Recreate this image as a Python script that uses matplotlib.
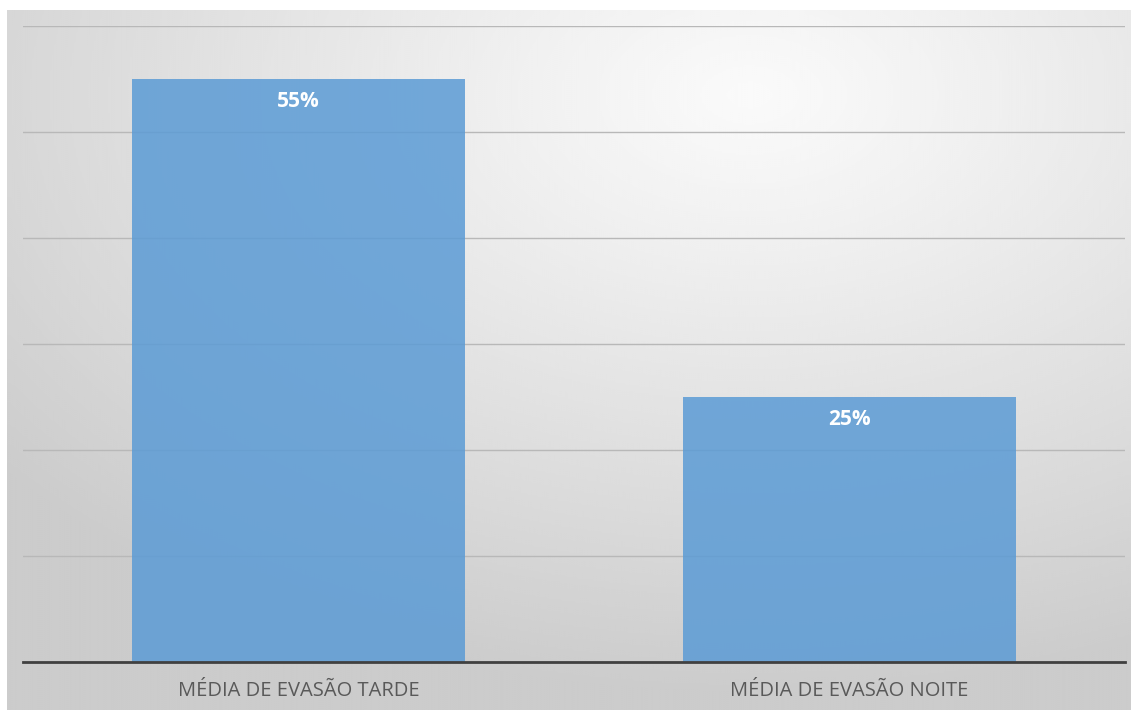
import numpy as np
import matplotlib.pyplot as plt

categories = ['MÉDIA DE EVASÃO TARDE', 'MÉDIA DE EVASÃO NOITE']
values = [55, 25]
labels = ['55%', '25%']

fig = plt.figure(figsize=(11.31, 7.10), dpi=100)

# fundo com degradê radial (claro no alto à direita, cinza nas bordas)
bg = fig.add_axes([7 / 1131, 0, 1 - 7 / 1131, 700 / 710])
h, w = 350, 560
yy, xx = np.mgrid[0:h, 0:w]
cx, cy = 0.66 * w, 0.12 * h
d = np.sqrt(((xx - cx) / w) ** 2 + ((yy - cy) / h) ** 2)
d = np.clip(d / 0.85, 0, 1)
shade = 0.98 - 0.18 * d ** 1.1
bg.imshow(shade, cmap='gray', vmin=0, vmax=1, aspect='auto', interpolation='bicubic')
bg.axis('off')

ax = fig.add_axes([23 / 1131, 1 - 662 / 710, 1102 / 1131, 636 / 710])
ax.patch.set_alpha(0)

x = np.arange(len(categories))
bars = ax.bar(x, values, width=0.604, color='#5b9bd5', alpha=0.85, zorder=2)

for bar, lab in zip(bars, labels):
    ax.text(bar.get_x() + bar.get_width() / 2, bar.get_height() - 1.1, lab,
            ha='center', va='top', color='white', fontsize=15, fontweight='bold',
            family='Open Sans', zorder=3)

ax.set_xlim(-0.5, 1.5)
ax.set_ylim(0, 60)
ax.set_yticks(np.arange(0, 61, 10))
ax.yaxis.grid(True, color='#b8b8b8', linewidth=1, zorder=1)
ax.set_axisbelow(True)
ax.tick_params(axis='y', left=False, labelleft=False)
ax.tick_params(axis='x', bottom=False, pad=10)
ax.set_xticks(x)
ax.set_xticklabels(categories, fontsize=14.5, color='#595959', family='Open Sans')
for s in ['top', 'right', 'left']:
    ax.spines[s].set_visible(False)
ax.spines['bottom'].set_color('#404040')
ax.spines['bottom'].set_linewidth(2)
ax.spines['bottom'].set_zorder(4)

fig.savefig('out.png', dpi=100)
